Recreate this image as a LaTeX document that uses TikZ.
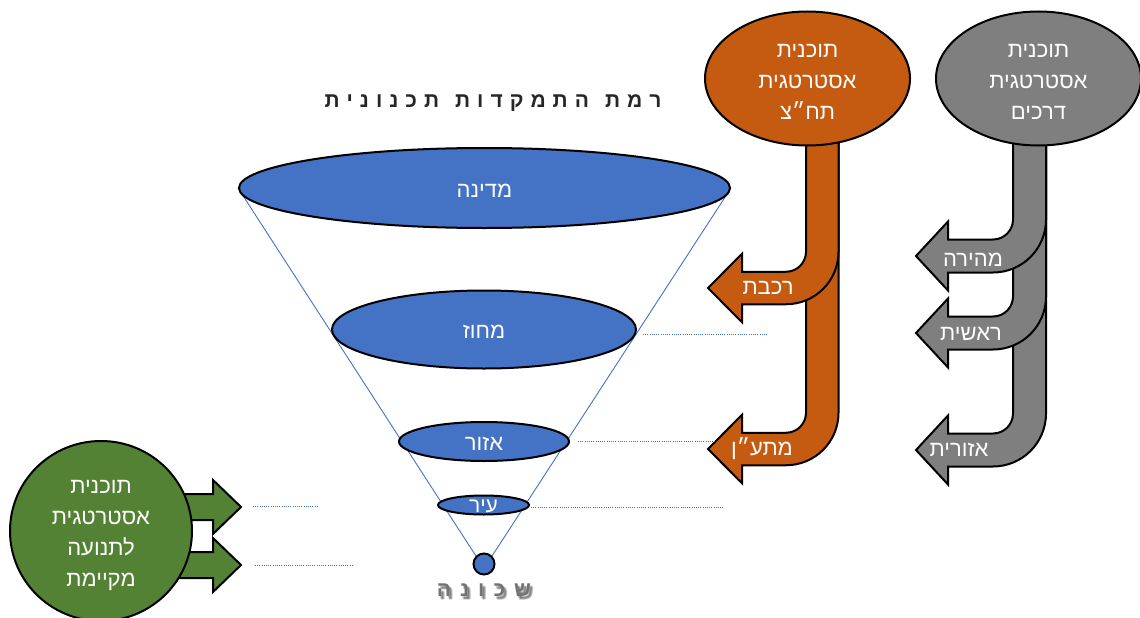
\documentclass[tikz,border=0pt]{standalone}
\usepackage{fontspec}
\usetikzlibrary{shapes.geometric}
\setmainfont{Liberation Sans}
\newfontfamily\heb[Script=Hebrew]{Liberation Sans}
\TeXXeTstate=1
\newcommand\rtltext[1]{\beginR#1\endR}
\newcommand\lsp{\kern 7pt}
\newcommand\wsp{\kern 16pt}
\newcommand\ssp{\kern 9pt}
\newcommand\shkword{\rtltext{ש\ssp כ\ssp ו\ssp נ\ssp ה}}
\newcommand\shadowcopy[2]{\makebox[0pt][l]{\kern#1\raisebox{-#2}{\shkword}}}

\definecolor{planblue}{HTML}{4472C4}
\definecolor{transitorange}{HTML}{C55A11}
\definecolor{roadgrey}{HTML}{7F7F7F}
\definecolor{trafficgreen}{HTML}{548235}

% Bent block arrow: vertical shaft that turns left into an arrow head.
% #1 fill, #2 shaft left x, #3 shaft right x, #4 shaft top y,
% #5 arm centre y, #6 head base x, #7 tip x
\newcommand\bentarrow[7]{%
  \pgfmathsetmacro\baHalf{(#3-#2)/2}%
  \pgfmathsetmacro\baHead{\baHalf+18}%
  \pgfmathsetmacro\baRin{20}%
  \pgfmathsetmacro\baRout{\baRin+#3-#2}%
  \draw[arrowbody, fill=#1]
    (#2,#4) -- (#2,{#5-\baHalf-\baRin})
    .. controls (#2,{#5-\baHalf-0.4477*\baRin}) and ({#2-0.4477*\baRin},{#5-\baHalf}) .. ({#2-\baRin},{#5-\baHalf})
    -- (#6,{#5-\baHalf}) -- (#6,{#5-\baHead}) -- (#7,#5) -- (#6,{#5+\baHead}) -- (#6,{#5+\baHalf})
    -- ({#3-\baRout},{#5+\baHalf})
    .. controls ({#3-0.4477*\baRout},{#5+\baHalf}) and (#3,{#5+\baHalf-0.4477*\baRout}) .. (#3,{#5+\baHalf-\baRout})
    -- (#3,#4) -- cycle;%
}

\pgfdeclarelayer{bg}
\pgfsetlayers{bg,main}

\begin{document}
\begin{tikzpicture}[x=1pt, y=-1pt,
  arrowbody/.style={draw=black, line width=2pt, line join=miter},
  level/.style={ellipse, draw=black, line width=2pt, fill=planblue, inner sep=0pt},
  lvltext/.style={inner sep=0pt, text=white, font=\heb\fontsize{22}{24}\selectfont},
  plan/.style={ellipse, draw=black, line width=2pt, inner sep=0pt},
  plantext/.style={inner sep=0pt, text=white, align=center, font=\heb\fontsize{22}{31}\selectfont},
  arrlabel/.style={inner sep=0pt, text=white, font=\heb\fontsize{22}{24}\selectfont},
  cone/.style={planblue, line width=0.9pt},
  guide/.style={planblue, line width=1pt, dash pattern=on 1pt off 1.2pt}
]
\useasboundingbox (0,0) rectangle (1140,618);

% public transport branches (long one first, short one on top)
\bentarrow{transitorange}{806}{838.5}{130}{449}{742}{708}
\bentarrow{transitorange}{806}{838.5}{130}{288}{742}{708}

% road branches
\bentarrow{roadgrey}{1013}{1046}{130}{450}{948}{916}
\bentarrow{roadgrey}{1013}{1046}{130}{333}{948}{916}
\bentarrow{roadgrey}{1013}{1046}{130}{256}{948}{916}

% existing-traffic arrows
\coordinate (gtipA) at (241,507);
\coordinate (gtipB) at (241,565);
\draw[arrowbody, fill=trafficgreen] (150,494) -- (213,494) -- (213,480) -- (gtipA) -- (213,534) -- (213,520) -- (150,520) -- cycle;
\draw[arrowbody, fill=trafficgreen] (150,552) -- (213,552) -- (213,538) -- (gtipB) -- (213,592) -- (213,578) -- (150,578) -- cycle;

% planning levels
\node[level, minimum width=491, minimum height=80] (medina) at (484.5,188) {};
\node[lvltext] (medinatext) at ([yshift=-2.5pt]medina.center) {\rtltext{מדינה}};
\node[level, minimum width=304, minimum height=78] (mahoz) at (484,329.5) {};
\node[lvltext] (mahoztext) at ([yshift=-2.5pt]mahoz.center) {\rtltext{מחוז}};
\node[level, minimum width=170, minimum height=39] (ezor) at (484,441.5) {};
\node[lvltext] (ezortext) at ([yshift=-2pt]ezor.center) {\rtltext{אזור}};
\node[level, minimum width=91, minimum height=19] (ir) at (483.5,505) {};
\node[lvltext, font=\heb\fontsize{21}{24}\selectfont] (irtext) at ([yshift=-1pt]ir.center) {\rtltext{עיר}};
\node[circle, draw=black, line width=2pt, fill=planblue, minimum size=21, inner sep=0pt] (shkhuna) at (484,564) {};

\begin{pgfonlayer}{bg}
  \draw[cone] (medina.west) -- (shkhuna.north west);
  \draw[cone] (medina.east) -- (shkhuna.north east);
\end{pgfonlayer}

% strategic plans
\node[plan, fill=transitorange, minimum width=205, minimum height=134] (tahatz) at (807.5,78.5) {};
\node[plantext] (tahatztext) at ([yshift=-3pt]tahatz.center)
  {\rtltext{תוכנית}\\\rtltext{אסטרטגית}\\\rtltext{תח״צ}};
\node[plan, fill=roadgrey, minimum width=205, minimum height=134] (roads) at (1038.5,78.5) {};
\node[plantext] (roadstext) at ([yshift=-3pt]roads.center)
  {\rtltext{תוכנית}\\\rtltext{אסטרטגית}\\\rtltext{דרכים}};
\node[plan, fill=trafficgreen, minimum width=182, minimum height=180] (existing) at (101,531) {};
\node[plantext] (existingtext) at ([yshift=-4pt]existing.center)
  {\rtltext{תוכנית}\\\rtltext{אסטרטגית}\\\rtltext{לתנועה}\\\rtltext{מקיימת}};

% branch labels
\node[arrlabel] (rail) at (768,288) {\rtltext{רכבת}};
\node[arrlabel] (lrt) at (762,449) {\rtltext{מתע״ן}};
\node[arrlabel] (express) at (973,260) {\rtltext{מהירה}};
\node[arrlabel] (main) at (971,334) {\rtltext{ראשית}};
\node[arrlabel] (regional) at (959,450) {\rtltext{אזורית}};

% dotted guides
\coordinate (gMahoz) at (767,334);
\coordinate (gEzor) at (731,441);
\coordinate (gIr) at (723,507);
\coordinate (gGreenA) at (318,506);
\coordinate (gGreenB) at (353,565);
\draw[guide] (mahoz.east |- gMahoz) ++(6,0) -- (gMahoz);
\draw[guide] (ezor.east |- gEzor) ++(8,0) -- (gEzor);
\draw[guide] (ir.east |- gIr) ++(1,0) -- (gIr);
\draw[guide] (gtipA |- gGreenA) ++(12,0) -- (gGreenA);
\draw[guide] (gtipB |- gGreenB) ++(14,0) -- (gGreenB);

% headings
\node[inner sep=0pt, text=black!85, font=\heb\bfseries\fontsize{21}{24}\selectfont] (title) at (493,103)
  {\rtltext{ר\lsp מ\lsp ת\wsp ה\lsp ת\lsp מ\lsp ק\lsp ד\lsp ו\lsp ת\wsp ת\lsp כ\lsp נ\lsp ו\lsp נ\lsp י\lsp ת}};
\node[inner sep=0pt, font=\heb\bfseries\fontsize{21}{24}\selectfont] (shklabel) at (484,592)
  {{\color{black}\pgfsetfillopacity{0.13}%
    \shadowcopy{2pt}{2pt}\shadowcopy{3pt}{3pt}\shadowcopy{2.5pt}{3.5pt}%
    \shadowcopy{3.5pt}{2.5pt}\shadowcopy{1.5pt}{2.5pt}\pgfsetfillopacity{1}}%
   \color{black!55}\shkword};
\end{tikzpicture}
\end{document}
